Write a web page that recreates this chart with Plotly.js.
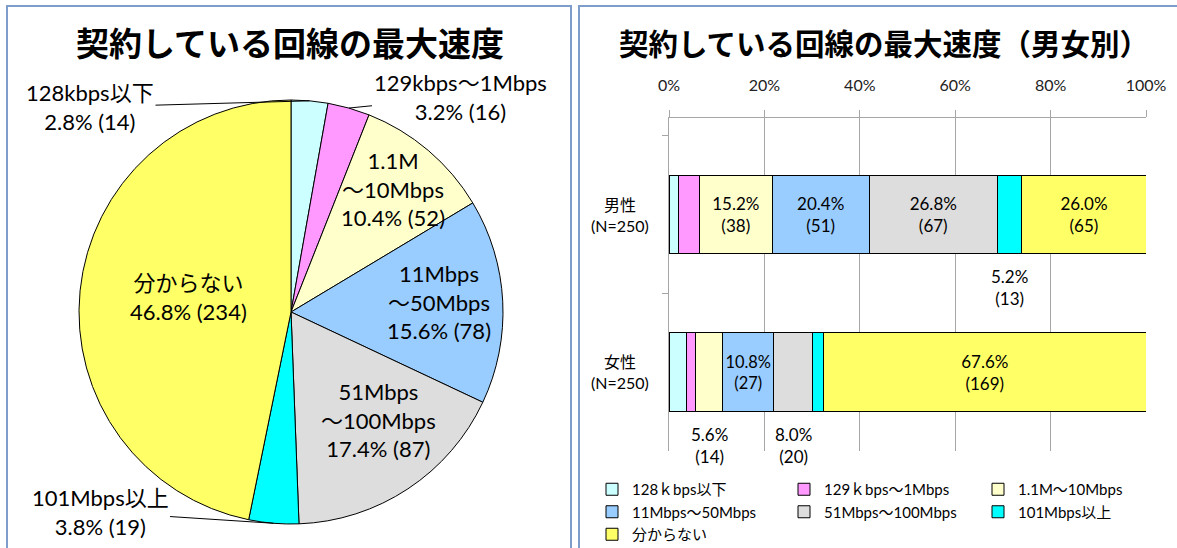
<!DOCTYPE html>
<html><head><meta charset="utf-8">
<script src="https://cdn.plot.ly/plotly-3.0.1.min.js"></script>
<style>html,body{margin:0;padding:0;background:#fff}</style>
</head><body><div id="chart" style="width:1177px;height:548px"></div>
<script>
// ---- data ----
const categories = ['128kbps以下','129kbps～1Mbps','1.1M～10Mbps','11Mbps～50Mbps','51Mbps～100Mbps','101Mbps以上','分からない'];
const legendLabels = ['128ｋbps以下','129ｋbps～1Mbps','1.1M～10Mbps','11Mbps～50Mbps','51Mbps～100Mbps','101Mbps以上','分からない'];
const pieLabels = ['128kbps以下','129kbps～1Mbps','1.1M<br>～10Mbps','11Mbps<br>～50Mbps','51Mbps<br>～100Mbps','101Mbps以上','分からない'];
const totalCounts = [14, 16, 52, 78, 87, 19, 234];
const groups = ['男性', '女性'];
const groupLabels = ['男性<br>(N=250)', '女性<br>(N=250)'];
const groupSizes = [250, 250];
const maleCounts = [5, 11, 38, 51, 67, 13, 65];
const femaleCounts = [9, 5, 14, 27, 20, 6, 169];
const xTickVals = [0, 20, 40, 60, 80, 100];
const xTickText = ['0%', '20%', '40%', '60%', '80%', '100%'];
const pieTitle = '契約している回線の最大速度';
const barTitle = '契約している回線の最大速度（男女別）';

// ---- styles ----
const colors = ['#CCFFFF','#FF99FF','#FFFFCC','#99CCFF','#DDDDDD','#00FFFF','#FFFF66'];
const W = 1177, H = 548;
const FONT = "Lato, 'Noto Sans CJK JP', sans-serif";
const TFONT = "'Noto Sans CJK JP', sans-serif";
const px = x => x / W, py = y => 1 - y / H;

const pieBox = {x0: 79, x1: 503, y0: 100, y1: 524};
const cx = (pieBox.x0 + pieBox.x1) / 2, cy = (pieBox.y0 + pieBox.y1) / 2;
const R = Math.min(pieBox.x1 - pieBox.x0, pieBox.y1 - pieBox.y0) / 2;
const pieLabelPlace = [{out:[90,107]}, {out:[460,97]}, {f:0.76, dx:-2, dy:0}, {f:0.70, dx:0, dy:-3},
  {f:0.66, dx:10, dy:-9}, {out:[100,512]}, {f:0.5, dx:3, dy:-4}];

const total = totalCounts.reduce((a,b)=>a+b,0);
const annotations = [];
let cum = 0;
totalCounts.forEach((v,i)=>{
  const th = (cum + v/2) / total * 2 * Math.PI;
  cum += v;
  const pct = (v/total*100).toFixed(1);
  const txt = pieLabels[i] + '<br>' + pct + '% (' + v + ')';
  const pl = pieLabelPlace[i];
  if (pl.out) {
    const hx = cx + R*Math.sin(th), hy = cy - R*Math.cos(th);
    annotations.push({xref:'paper', yref:'paper', x:px(hx), y:py(hy), text:txt,
      showarrow:true, arrowhead:0, arrowwidth:1, arrowcolor:'#000', standoff:0,
      ax: pl.out[0]-hx, ay: pl.out[1]-hy, font:{family:FONT,size:22,color:'#000'}, align:'center'});
  } else {
    const r = R*pl.f;
    annotations.push({xref:'paper', yref:'paper', x:px(cx + r*Math.sin(th) + pl.dx), y:py(cy - r*Math.cos(th) + pl.dy),
      text:txt, showarrow:false, font:{family:FONT,size:22,color:'#000'}, align:'center',
      xanchor:'center', yanchor:'middle'});
  }
});

annotations.push({xref:'paper', yref:'paper', x:px(290), y:py(42), text:'<b>'+pieTitle+'</b>',
  showarrow:false, font:{family:TFONT,size:33,color:'#000'}, xanchor:'center', yanchor:'middle'});
annotations.push({xref:'paper', yref:'paper', x:px(884), y:py(42), text:'<b>'+barTitle+'</b>',
  showarrow:false, font:{family:TFONT,size:29.5,color:'#000'}, xanchor:'center', yanchor:'middle'});

// category labels (centred, on the y axis scale)
groups.forEach((g,k)=>{
  annotations.push({xref:'paper', yref:'y', x:px(620), y:g, text:groupLabels[k], showarrow:false,
    align:'center', xanchor:'center', yanchor:'middle', font:{family:FONT,size:16,color:'#000'}});
});

const seriesByGroup = [maleCounts, femaleCounts];
const traces = [];
traces.push({type:'pie', values: totalCounts, labels: categories, sort:false, direction:'clockwise',
  rotation:0, marker:{colors: colors, line:{color:'#000', width:1}}, textinfo:'none',
  showlegend:false, domain:{x:[px(pieBox.x0), px(pieBox.x1)], y:[py(pieBox.y1), py(pieBox.y0)]},
  hoverinfo:'label+percent'});

const legendIds = ['legend','legend2','legend3'];
const cumG = [0,0];
categories.forEach((c,i)=>{
  const xs = seriesByGroup.map((s,g)=> s[i]/groupSizes[g]*100);
  const texts = seriesByGroup.map((s,g)=>{
    const p = s[i]/groupSizes[g]*100;
    return p >= 10 ? p.toFixed(1)+'%<br>('+s[i]+')' : '';
  });
  seriesByGroup.forEach((s,g)=>{
    const p = s[i]/groupSizes[g]*100;
    if (p >= 5 && p < 10) {
      annotations.push({xref:'x', yref:'y', x: cumG[g] + p/2, y: groups[g], yshift:-73,
        text: p.toFixed(1)+'%<br>('+s[i]+')', showarrow:false,
        font:{family:FONT,size:17,color:'#000'}, align:'center'});
    }
    cumG[g] += p;
  });
  traces.push({type:'bar', orientation:'h', x: xs, y: groups, name: legendLabels[i],
    legend: legendIds[i % 3],
    marker:{color: colors[i], line:{color:'#000', width:1}},
    text: texts, textposition:'inside', insidetextanchor:'middle', textangle:0,
    textfont:{family:FONT, size:17, color:'#000'}, hoverinfo:'x+name'});
});

const shapes = [
  {type:'rect', xref:'paper', yref:'paper', x0:px(7), x1:px(571), y0:py(6), y1:py(600),
   line:{color:'#7F9DCB', width:2}},
  {type:'rect', xref:'paper', yref:'paper', x0:px(579), x1:px(1230), y0:py(6), y1:py(600),
   line:{color:'#7F9DCB', width:2}}
];

const legendBase = {orientation:'v', yanchor:'top', xanchor:'left', y:py(473), traceorder:'normal',
  font:{family:FONT, size:15, color:'#000'}, itemwidth:30, bgcolor:'rgba(0,0,0,0)',
  tracegroupgap:0, borderwidth:0};

const layout = {
  width: W, height: H, margin:{l:0,r:0,t:0,b:0, autoexpand:false}, paper_bgcolor:'#fff', plot_bgcolor:'#fff',
  font:{family:FONT, size:15, color:'#000'},
  barmode:'stack', bargap:0.5,
  xaxis:{domain:[px(669), px(1146)], range:[0,100], side:'top', tickmode:'array',
    tickvals:xTickVals, ticktext:xTickText,
    showgrid:true, gridcolor:'#A6A6A6', gridwidth:1, showline:true, linecolor:'#A6A6A6',
    ticks:'outside', ticklen:7, tickcolor:'#A6A6A6', zeroline:false, ticklabelstandoff:13,
    tickfont:{family:FONT, size:16, color:'#222'}, fixedrange:true},
  yaxis:{domain:[py(451), py(118)], type:'category', autorange:'reversed', tickson:'boundaries',
    ticks:'outside', ticklen:6, tickcolor:'#A6A6A6', showline:true, linecolor:'#A6A6A6',
    showgrid:false, zeroline:false, showticklabels:false, fixedrange:true},
  showlegend:true,
  legend: Object.assign({}, legendBase, {x:px(592)}),
  legend2: Object.assign({}, legendBase, {x:px(784)}),
  legend3: Object.assign({}, legendBase, {x:px(978)}),
  annotations: annotations, shapes: shapes
};

Plotly.newPlot('chart', traces, layout, {displayModeBar:false, staticPlot:true});
</script>
</body></html>
